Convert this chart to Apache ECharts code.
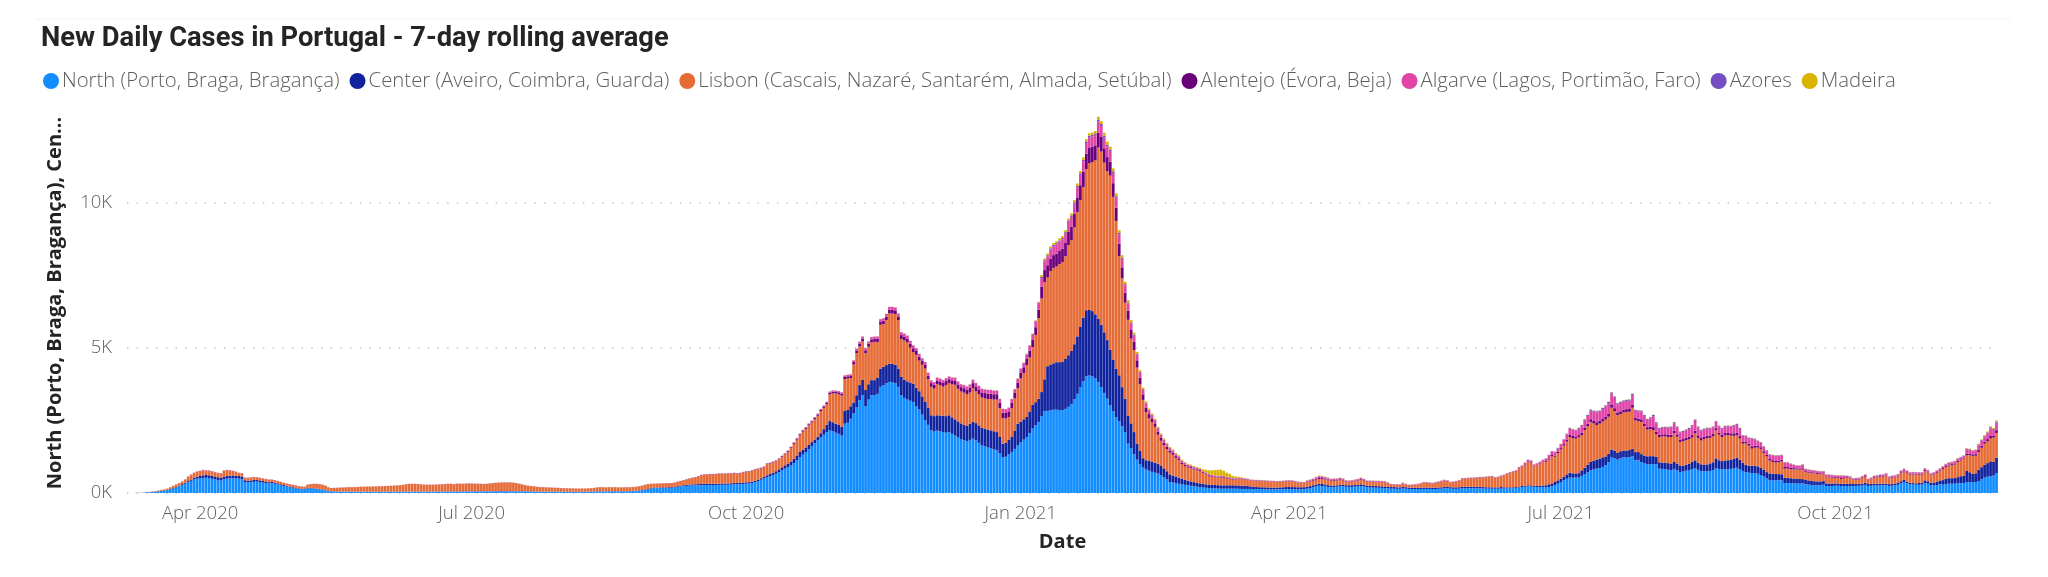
<!DOCTYPE html>
<html>
<head>
<meta charset="utf-8">
<title>New Daily Cases in Portugal</title>
<script src="https://cdn.jsdelivr.net/npm/echarts@6/dist/echarts.min.js"></script>
<style>
  html, body { margin: 0; padding: 0; background: #fff; }
  #chart { width: 2048px; height: 577px; }
</style>
</head>
<body>
<div id="chart"></div>
<script>
// daily bars, first day below, one value per day, 25 values per line
const firstDay = '2020-03-08'
const quarterTicks = ['2020-04-01', '2020-07-01', '2020-10-01', '2021-01-01', '2021-04-01', '2021-07-01', '2021-10-01']
const monthNames = ['Jan', 'Feb', 'Mar', 'Apr', 'May', 'Jun', 'Jul', 'Aug', 'Sep', 'Oct', 'Nov', 'Dec']
const seriesNames = [
  'North (Porto, Braga, Bragança)',
  'Center (Aveiro, Coimbra, Guarda)',
  'Lisbon (Cascais, Nazaré, Santarém, Almada, Setúbal)',
  'Alentejo (Évora, Beja)',
  'Algarve (Lagos, Portimão, Faro)',
  'Azores',
  'Madeira'
]
const seriesColors = ['#118DFF', '#12239E', '#E66C37', '#6B007B', '#E044A7', '#744EC2', '#D9B300']

const north = [
  0,1,2,4,7,12,18,25,35,45,55,68,82,100,125,155,190,230,275,320,370,420,470,495,510,
  520,525,515,490,470,450,430,470,495,505,510,500,495,480,375,365,375,385,390,380,360,345,325,335,320,
  300,270,245,225,200,185,160,140,125,120,165,160,150,140,130,120,90,65,55,50,48,46,45,45,44,
  44,43,43,42,42,42,41,41,40,40,40,40,40,41,41,42,42,42,43,44,44,45,45,44,44,
  44,44,44,45,46,46,46,47,47,48,48,48,49,50,50,50,50,50,50,52,52,52,54,54,55,
  56,56,56,55,55,54,54,53,52,52,50,48,46,45,44,42,42,40,40,40,40,40,40,38,38,
  38,40,40,42,44,46,48,50,52,52,52,54,54,54,52,52,52,54,56,60,66,75,90,105,120,
  160,165,168,170,172,170,175,180,190,205,225,235,245,255,260,262,265,268,272,275,278,275,278,280,280,
  282,285,290,295,300,305,312,320,330,345,375,410,455,500,550,585,625,665,720,780,840,890,950,1030,1130,
  1240,1320,1410,1510,1620,1720,1820,1910,2010,2100,2160,2130,2080,2040,1980,2390,2420,2560,2740,2950,3200,3370,3000,3220,3370,
  3370,3420,3660,3720,3780,3830,3810,3780,3660,3370,3280,3220,3180,3140,3000,2880,2700,2510,2350,2160,2120,2150,2130,2100,2080,
  2100,2040,1980,1920,1860,1820,1780,1830,1875,1820,1730,1640,1610,1570,1540,1500,1470,1370,1240,1250,1330,1415,1520,1640,1740,
  1840,1930,2070,2220,2330,2450,2650,2820,2830,2850,2870,2870,2860,2850,2900,2970,3070,3230,3420,3640,3850,4025,4050,4020,3960,
  3830,3650,3450,3250,3020,2820,2620,2480,2300,2100,1700,1550,1340,1150,1000,880,810,770,730,700,670,610,550,470,380,
  360,340,320,300,280,265,250,235,220,205,190,180,170,165,160,155,150,150,150,150,150,148,145,140,140,
  140,140,138,135,132,130,128,125,125,125,128,130,132,135,135,132,130,128,130,135,150,170,200,225,250,
  240,225,210,200,205,215,240,235,215,205,210,220,225,240,225,200,190,185,185,180,175,170,165,150,150,
  145,145,155,150,140,135,135,135,140,140,140,140,138,138,145,150,160,165,150,145,145,150,160,165,165,
  165,165,165,160,155,150,150,150,148,148,150,155,160,165,165,170,190,205,215,230,230,210,205,205,210,
  205,205,230,270,320,380,440,490,530,530,535,530,590,650,720,780,810,840,860,900,960,1060,1220,1190,1150,
  1200,1230,1220,1240,1265,1130,1140,1060,1020,990,990,1000,990,840,830,820,800,780,830,780,725,740,770,790,820,
  860,800,760,750,750,760,790,860,830,810,820,820,830,850,870,820,760,720,700,690,680,665,620,575,500,
  450,437,435,440,440,345,345,340,335,325,322,340,300,290,275,265,265,270,285,240,240,240,250,250,240,
  240,240,235,240,245,250,255,280,245,250,255,260,260,265,265,245,255,260,285,340,380,340,300,290,285,
  285,290,345,320,270,265,275,300,290,310,320,320,320,330,340,345,380,375,370,380,400,470,530,560,575,600,690
]
const center = [
  0,0,0,0,1,1,2,3,4,5,6,8,10,12,15,18,20,24,30,35,40,45,55,65,75,
  90,95,95,100,100,95,90,95,95,90,95,95,90,90,65,60,60,65,60,55,55,50,45,45,40,
  35,32,30,28,26,24,22,20,20,18,20,18,16,14,12,10,8,8,8,7,7,7,7,6,6,
  6,6,6,6,6,5,5,5,5,5,5,5,6,6,6,6,6,7,7,7,7,7,7,6,6,
  6,6,7,7,7,8,8,8,8,9,9,9,9,10,10,10,10,10,10,10,10,10,10,10,10,
  10,10,10,10,9,9,9,9,8,8,8,8,8,8,8,7,7,7,7,7,7,7,7,7,7,
  7,7,8,8,8,8,9,9,9,9,9,10,10,10,10,10,10,10,11,12,13,14,15,17,18,
  18,20,20,20,22,22,24,24,26,28,30,32,34,36,38,40,42,42,44,44,45,45,45,46,46,
  46,46,48,48,50,50,50,48,45,45,48,50,52,55,60,68,75,85,95,105,115,125,135,150,165,
  175,170,160,150,135,120,115,150,190,250,320,310,310,305,300,440,440,430,380,420,520,530,550,530,520,
  520,560,630,630,630,630,640,640,630,630,630,630,630,630,630,630,630,630,600,520,530,530,540,560,570,
  580,570,560,550,540,530,530,560,575,590,600,600,610,620,620,630,630,560,460,480,500,515,620,750,720,
  700,690,740,820,800,800,830,1100,1540,1580,1600,1640,1650,1670,1720,1780,1840,1900,1980,2100,2200,2275,2260,2250,2200,
  2185,2150,2090,2020,1920,1780,1660,1580,1350,1150,960,850,760,550,450,320,320,350,350,345,340,320,300,280,260,
  245,230,210,195,175,160,150,140,135,130,125,120,120,118,118,116,115,115,115,115,115,115,115,112,110,
  100,85,72,70,68,68,66,65,62,60,60,62,65,70,70,72,72,70,68,66,66,66,68,70,70,
  70,68,62,55,52,50,50,50,55,60,60,60,60,60,58,56,55,55,55,55,55,52,52,55,55,
  52,50,50,50,48,48,46,45,45,45,45,44,44,44,44,45,45,48,50,50,50,50,50,50,52,
  52,52,52,50,48,48,46,45,45,45,55,40,35,30,32,32,35,35,35,35,35,35,40,45,50,
  60,95,100,110,115,115,120,150,170,150,140,155,190,220,250,290,300,310,325,330,300,290,280,275,230,
  240,235,230,240,265,280,270,280,270,275,280,270,260,220,220,225,230,230,240,235,205,205,210,215,260,
  265,240,230,230,235,260,270,335,300,290,300,310,320,330,350,320,280,250,240,250,265,255,240,230,220,
  225,230,220,210,205,175,175,170,165,160,160,140,150,145,140,140,135,130,125,90,85,85,80,75,80,
  80,80,75,70,70,65,65,70,65,70,70,65,60,60,60,60,65,65,65,65,70,50,50,50,50,
  60,65,90,85,85,95,115,130,155,175,190,190,195,215,240,255,380,340,290,300,405,420,440,470,515,470,530
]
const lisbon = [
  0,0,1,2,2,5,8,10,11,15,27,32,36,42,55,72,85,85,90,110,155,165,165,175,170,
  170,150,150,150,142,137,155,200,195,180,150,130,100,105,88,93,98,95,90,85,85,85,90,80,80,
  77,80,77,70,77,74,82,74,79,77,100,127,149,161,163,155,157,122,107,118,125,132,138,144,150,
  149,155,160,166,168,172,176,178,181,185,189,193,196,202,207,214,221,230,254,263,262,262,257,249,239,
  232,232,231,236,239,243,248,257,257,245,260,260,254,257,267,262,257,252,251,244,249,259,272,282,286,
  296,298,298,295,288,274,249,230,207,187,179,171,153,147,145,143,138,135,130,127,120,115,113,112,110,
  109,105,106,104,107,110,117,135,138,138,133,135,135,135,132,132,132,135,132,132,135,140,144,157,166,
  134,132,134,136,137,144,137,136,139,152,155,173,189,207,220,239,269,304,318,318,319,322,322,334,329,
  332,334,332,335,318,323,344,358,359,374,379,362,343,335,388,365,355,345,347,365,380,407,465,515,545,
  570,625,642,670,673,705,727,760,735,710,920,995,1040,1060,1080,1100,1085,970,1310,1450,1330,1325,1270,1295,1300,
  1320,1225,1510,1475,1555,1730,1735,1745,1665,1310,1350,1340,1200,1085,1135,1055,1090,1150,970,980,950,1070,1045,1005,1075,
  1105,1135,1190,1125,1100,1110,1090,1075,1170,1095,1070,1050,1040,1050,1080,1090,1120,995,880,840,790,990,1120,1220,1490,
  1590,1780,1860,1990,2320,2780,3225,3345,3057,3220,3290,3300,3385,3445,3540,3795,3800,4020,4290,4360,4500,4865,5060,5140,5310,
  5895,5970,5850,5820,6000,5610,5100,4100,3750,3310,3310,2920,2830,2625,2300,2010,1650,1450,1360,1235,1000,870,795,765,750,
  715,640,610,505,475,455,455,435,430,425,375,350,300,282,272,269,270,265,235,225,195,197,220,228,215,
  215,203,210,210,212,209,210,204,202,200,192,193,197,199,202,198,178,157,147,139,164,164,152,165,160,
  170,172,168,160,163,165,160,145,110,112,120,128,140,160,142,126,135,140,135,140,142,148,113,85,77,
  80,77,120,92,76,86,98,112,125,165,160,151,145,163,181,203,220,192,160,175,195,218,272,270,278,
  283,288,298,315,322,337,353,359,322,342,370,409,459,492,523,543,625,655,730,805,785,675,710,750,805,
  805,850,935,870,935,1005,1070,1130,1230,1210,1200,1235,1220,1300,1330,1380,1290,1185,1205,1230,1270,1280,1440,1350,1300,
  1280,1310,1345,1320,1410,1090,1060,1110,1020,920,930,900,780,870,900,905,900,920,990,925,830,835,840,845,830,
  925,860,820,880,905,880,900,965,880,830,870,860,830,790,770,740,660,740,690,590,615,645,660,575,540,
  445,403,395,410,445,320,320,310,315,325,323,325,270,265,270,270,255,245,234,209,215,205,190,190,165,
  205,200,195,142,145,155,195,204,125,155,205,220,240,240,280,200,205,215,225,280,290,295,285,300,300,
  290,280,330,305,255,275,300,320,385,415,435,450,465,525,540,585,540,585,620,605,610,670,730,750,785,840,850
]
const alentejo = [
  0,0,0,0,0,0,0,0,0,0,0,1,1,1,1,1,2,2,2,2,2,3,3,3,4,
  5,5,5,5,5,5,4,4,4,4,4,4,4,4,3,3,3,3,3,3,3,3,3,3,3,
  3,3,3,2,2,2,2,2,2,2,2,2,2,2,2,2,2,2,2,2,2,2,2,2,2,
  2,2,2,2,2,2,2,2,2,2,2,2,2,2,2,2,2,2,2,2,2,2,2,2,2,
  3,3,3,3,3,3,3,3,3,3,3,3,3,3,3,3,3,3,3,3,3,3,3,3,3,
  3,3,3,3,3,3,3,3,3,3,3,3,3,3,3,3,3,3,3,3,3,3,3,3,3,
  2,2,2,2,2,2,2,2,2,2,2,2,2,2,2,2,2,2,2,2,2,2,2,2,3,
  3,3,3,4,4,4,4,5,5,5,5,5,6,6,6,7,7,8,8,9,9,9,10,10,10,
  10,10,10,12,12,12,13,13,14,14,15,15,16,16,17,17,19,19,21,22,25,27,28,31,34,
  38,38,40,41,42,44,46,47,50,52,58,60,63,66,68,74,76,79,84,90,95,98,100,103,105,
  105,108,110,113,118,126,130,130,130,133,133,133,133,133,130,130,128,128,128,128,128,130,130,130,133,
  138,141,144,147,150,155,160,165,168,170,173,180,185,185,185,185,185,188,190,190,190,190,190,195,200,
  205,220,235,250,265,290,410,420,425,435,440,445,450,455,460,470,475,485,500,510,520,530,525,520,515,
  510,505,495,490,480,470,455,430,380,340,320,300,280,250,220,190,170,150,130,120,110,100,90,80,75,
  65,60,55,50,45,40,38,35,33,30,28,26,25,25,24,24,24,22,22,20,20,18,18,16,15,
  14,13,12,12,12,12,11,11,11,11,11,11,11,11,12,12,12,12,12,12,18,22,25,32,38,
  34,30,28,25,25,25,25,25,20,18,18,19,20,22,20,17,15,15,15,15,15,14,12,9,9,
  9,9,9,9,8,8,8,9,9,9,9,9,9,9,9,10,11,11,9,9,9,10,11,11,11,
  11,11,11,11,11,11,11,11,11,11,10,10,10,10,11,12,13,15,17,20,20,17,18,20,20,
  30,40,45,42,45,48,55,65,75,75,72,75,80,85,90,95,100,105,100,105,110,112,115,110,95,
  95,95,95,95,105,85,90,90,88,85,90,100,85,70,72,75,78,80,85,80,80,80,85,88,95,
  100,88,85,82,82,80,78,75,72,72,75,78,78,85,88,82,70,65,68,80,72,60,58,58,55,
  55,60,60,60,56,56,54,50,44,40,40,47,33,33,32,32,32,32,32,30,28,28,28,28,33,
  25,24,22,20,20,20,22,26,18,20,21,22,24,25,25,21,22,24,25,28,30,28,27,27,27,
  27,27,28,27,24,25,27,30,30,32,34,36,38,38,38,34,60,55,50,54,65,68,70,78,90,75,95
]
const algarve = [
  0,0,0,0,0,0,0,0,0,1,1,1,1,1,2,2,2,3,3,3,5,5,6,7,8,
  9,9,9,9,8,8,7,7,7,7,7,7,7,7,6,6,6,5,5,5,5,5,5,5,5,
  4,4,4,4,4,4,3,3,3,2,2,2,2,2,2,2,2,2,2,2,2,2,2,2,2,
  2,2,2,2,2,2,2,2,2,2,2,2,2,2,2,2,2,2,2,2,2,2,2,2,2,
  3,3,3,3,3,3,3,3,3,3,3,3,3,3,3,3,3,3,3,3,3,3,3,3,3,
  3,3,3,3,3,3,3,3,3,3,3,3,3,3,3,3,3,3,3,3,3,3,3,3,3,
  2,2,2,2,2,2,2,2,2,2,2,2,2,2,2,2,2,2,2,2,2,2,2,2,3,
  3,3,3,3,3,3,3,3,3,3,3,3,4,4,4,5,5,5,5,6,6,6,6,6,6,
  6,6,6,6,6,6,7,7,8,8,9,9,10,10,11,11,12,12,13,14,15,16,17,18,20,
  22,22,23,24,25,26,27,28,30,33,36,38,40,42,45,48,51,53,58,62,67,69,72,74,77,
  77,79,81,83,88,95,96,96,96,98,98,98,98,98,96,96,93,93,93,93,93,96,96,96,98,
  90,92,94,96,98,103,108,108,110,113,115,118,123,123,123,123,123,125,127,127,127,127,127,132,137,
  140,152,165,185,195,225,290,295,300,305,310,315,318,320,325,330,335,340,350,360,365,370,370,365,362,
  385,380,375,370,365,355,345,325,290,260,245,230,215,195,175,155,140,125,115,105,105,100,90,85,80,
  70,65,60,58,55,50,48,45,42,40,32,30,30,30,28,28,28,26,26,25,25,24,22,20,18,
  17,16,15,15,14,14,14,14,14,14,14,14,14,14,15,15,16,16,16,16,26,30,36,44,54,
  50,46,42,36,36,36,36,36,30,28,28,29,30,32,30,25,23,23,23,23,22,20,18,14,13,
  13,13,14,13,12,12,12,13,14,14,14,14,13,14,14,15,16,16,14,14,14,15,16,16,16,
  16,16,16,16,16,16,17,17,16,16,17,18,18,20,21,25,28,35,42,48,48,42,46,48,53,
  85,112,120,118,124,130,150,185,210,210,205,218,232,255,268,295,303,340,312,325,340,355,370,355,285,
  290,285,285,290,335,250,260,270,262,250,285,375,290,210,218,225,230,245,260,238,243,248,252,268,295,
  337,270,250,248,248,232,225,215,212,212,220,226,226,257,272,250,195,182,189,250,213,158,152,152,138,
  138,162,162,162,148,148,140,126,104,90,90,115,68,68,64,64,64,64,65,58,55,55,55,55,72,
  44,41,39,32,32,32,39,48,29,32,35,39,42,45,45,35,39,42,45,51,54,51,47,47,47,
  47,47,50,47,41,45,47,52,52,58,60,63,70,70,70,60,150,136,115,130,170,172,180,205,265,195,265
]
const azores = [
  0,0,0,0,0,0,0,0,0,0,0,0,0,0,0,1,1,1,1,1,2,2,2,2,2,
  4,4,4,4,3,3,3,3,3,3,3,3,3,3,2,2,2,1,1,1,1,1,1,1,1,
  1,1,1,1,1,1,1,1,1,1,1,1,1,1,1,1,1,1,1,1,1,1,1,1,1,
  1,1,1,1,1,1,1,1,1,1,1,1,1,1,1,1,1,1,1,1,1,1,1,1,1,
  2,2,2,2,2,2,2,2,2,2,2,2,2,2,2,2,2,2,2,2,2,2,2,2,2,
  1,1,1,1,1,1,1,1,1,1,1,1,1,1,1,1,1,1,1,1,1,1,1,1,1,
  1,1,1,1,1,1,1,1,1,1,1,1,1,1,1,1,1,1,1,1,1,1,1,1,1,
  1,1,1,1,1,1,1,1,1,1,1,1,1,1,1,1,1,2,2,2,2,2,2,2,2,
  2,2,2,2,2,2,2,2,2,2,2,2,2,2,2,2,2,2,2,2,3,3,3,3,3,
  3,3,3,3,3,3,3,3,3,3,3,4,4,4,4,4,4,4,4,4,4,4,4,4,4,
  4,4,5,5,5,5,5,5,5,5,5,5,5,5,5,5,5,5,5,5,5,5,5,5,5,
  6,6,6,6,6,6,6,6,6,6,6,6,6,6,6,6,6,6,6,6,6,6,6,6,6,
  12,14,15,18,20,25,45,45,45,45,45,45,45,48,48,50,50,50,52,52,55,55,55,55,53,
  65,65,60,60,55,55,50,50,45,40,35,35,30,30,25,25,20,20,15,15,15,15,15,15,15,
  15,15,15,12,12,10,10,10,10,10,10,10,10,10,8,8,8,8,8,8,8,8,6,6,6,
  6,6,6,6,6,6,6,6,6,5,5,5,6,6,6,6,6,6,6,6,8,9,10,12,14,
  13,12,10,9,9,9,9,9,7,6,6,6,7,8,7,6,6,6,6,6,5,5,5,3,3,
  3,3,4,3,3,3,3,3,4,4,4,4,3,4,4,4,4,4,4,4,4,4,4,4,4,
  4,4,4,4,4,4,4,4,4,4,4,4,4,4,4,4,5,6,7,8,8,7,7,8,8,
  10,13,14,14,15,16,18,22,25,25,23,27,28,30,32,35,37,40,38,40,40,42,43,43,35,
  35,35,35,35,40,30,30,30,30,30,35,45,35,30,30,30,32,35,35,32,32,32,33,34,40,
  43,32,30,30,30,28,27,25,26,26,25,26,26,28,30,28,25,23,23,30,25,22,20,20,18,
  18,19,19,19,18,18,18,16,15,13,13,16,12,12,12,12,12,12,12,10,10,10,10,10,12,
  9,9,8,7,7,7,8,10,7,7,8,8,8,9,9,8,8,8,9,10,10,10,10,10,10,
  10,10,11,10,9,9,10,11,11,12,13,13,14,14,14,12,20,19,17,18,24,24,24,27,35,27,35
]
const madeira = [
  0,0,0,0,0,0,0,0,0,0,0,0,0,0,0,0,0,0,0,0,0,0,1,1,1,
  2,2,2,2,2,2,1,1,1,1,1,1,1,1,1,1,1,1,1,1,1,1,1,1,1,
  0,0,0,0,0,0,0,0,0,0,0,0,0,0,0,0,0,0,0,0,0,0,0,0,0,
  1,1,1,1,1,1,1,1,1,1,1,1,1,1,1,1,1,1,1,1,1,1,1,1,1,
  1,1,1,1,1,1,1,1,1,1,1,1,1,1,1,1,1,1,1,1,1,1,1,1,1,
  1,1,1,1,1,1,1,1,1,1,1,1,1,1,1,1,1,1,1,1,1,1,1,1,1,
  1,1,1,1,1,1,1,1,1,1,1,1,1,1,1,1,1,1,1,1,1,1,1,1,1,
  1,1,1,1,1,1,1,1,1,1,1,1,1,1,1,1,1,1,1,1,1,1,2,2,2,
  2,2,2,2,2,2,2,2,2,2,2,2,2,2,2,2,2,2,2,2,2,2,2,3,3,
  2,2,2,2,2,2,2,2,2,2,3,3,3,3,3,4,4,4,4,4,4,4,4,4,4,
  4,4,4,4,4,4,4,4,4,4,4,4,4,4,4,4,4,4,4,4,4,4,4,4,4,
  6,6,6,6,6,6,6,6,6,6,6,6,6,6,6,6,6,6,6,6,6,6,6,6,6,
  13,14,15,17,20,20,60,60,60,65,65,65,67,67,67,70,70,75,78,78,80,80,80,80,80,
  100,100,100,100,100,100,100,95,85,80,80,75,75,65,60,50,50,45,40,40,40,35,35,30,30,
  30,30,30,30,28,30,29,30,30,30,60,84,125,155,180,200,210,184,144,117,77,60,34,18,16,
  8,7,7,7,6,6,5,5,5,5,5,5,5,5,5,5,6,6,6,6,8,9,9,12,14,
  13,12,10,10,10,10,10,10,8,8,8,8,8,8,8,7,6,6,6,6,6,6,5,4,3,
  3,3,3,3,3,3,3,3,3,3,3,3,3,3,3,3,4,4,3,3,3,3,4,4,4,
  4,4,4,4,4,4,4,4,4,4,4,4,4,4,4,4,4,4,4,4,4,4,4,4,4,
  5,5,6,6,6,6,7,8,10,10,10,10,10,10,10,10,10,10,10,10,10,11,12,12,10,
  10,10,10,10,10,10,10,10,10,10,10,10,10,10,10,10,10,10,10,10,10,10,10,10,10,
  10,10,10,10,10,10,10,10,10,10,10,10,10,10,10,10,10,10,10,10,10,10,10,10,9,
  9,9,9,9,8,8,8,8,7,7,7,7,7,7,7,7,7,7,7,7,7,7,7,7,8,
  7,6,6,6,6,6,6,6,6,6,6,6,6,6,6,6,6,6,6,6,6,6,6,6,6,
  6,6,6,6,6,6,6,7,7,8,8,8,8,8,8,9,20,20,18,18,26,26,26,30,35,33,35
]
const seriesValues = [north, center, lisbon, alentejo, algarve, azores, madeira]

// 一天一个类目
const dates = north.map((_, i) => {
  const d = new Date(firstDay + 'T00:00:00Z')
  d.setUTCDate(d.getUTCDate() + i)
  return d.toISOString().slice(0, 10)
})

const chart = echarts.init(document.getElementById('chart'))

chart.setOption({
  animation: false,
  backgroundColor: '#fff',
  textStyle: { fontFamily: 'Open Sans' },
  title: {
    text: 'New Daily Cases in Portugal - 7-day rolling average',
    left: 36,
    top: 21,
    textStyle: { fontFamily: 'Roboto', fontSize: 27.3, fontWeight: 700, color: '#252423' }
  },
  legend: {
    left: 38,
    top: 66,
    icon: 'circle',
    itemWidth: 16,
    itemHeight: 16,
    itemGap: 10,
    textStyle: { fontFamily: 'Open Sans', fontWeight: 300, fontSize: 20.35, color: '#605E5C', padding: [0, 0, 0, -2] },
    data: seriesNames
  },
  grid: { left: 127, right: 50, top: 113, bottom: 84 },
  graphic: [
    { type: 'rect', shape: { x: 36, y: 18, width: 1975, height: 2 }, style: { fill: '#f8f8f8' }, silent: true }
  ],
  xAxis: {
    type: 'category',
    data: dates,
    name: 'Date',
    nameLocation: 'middle',
    nameGap: 39,
    nameTextStyle: { fontFamily: 'Open Sans', fontWeight: 700, fontSize: 20, color: '#252423' },
    axisLine: { show: false },
    axisTick: { show: false },
    axisLabel: {
      interval: (idx, value) => quarterTicks.includes(value),
      formatter: (value) => monthNames[+value.slice(5, 7) - 1] + ' ' + value.slice(0, 4),
      margin: 11,
      fontFamily: 'Open Sans',
      fontWeight: 300,
      fontSize: 18.5,
      color: '#605E5C',
      hideOverlap: false
    }
  },
  yAxis: {
    type: 'value',
    min: 0,
    max: 13100,
    interval: 5000,
    name: 'North (Porto, Braga, Bragança), Cen...',
    nameLocation: 'middle',
    nameGap: 62,
    nameTextStyle: { fontFamily: 'Open Sans', fontWeight: 700, fontSize: 20, color: '#252423' },
    axisLine: { show: false },
    axisTick: { show: false },
    axisLabel: {
      showMaxLabel: false,
      formatter: (v) => v / 1000 + 'K',
      margin: 15,
      fontFamily: 'Open Sans',
      fontWeight: 300,
      fontSize: 18.5,
      color: '#605E5C'
    },
    splitLine: {
      showMaxLine: false,
      lineStyle: { type: [1.5, 8.2], width: 1.5, color: '#C8C6C4' }
    }
  },
  series: seriesNames.map((name, i) => ({
    name,
    type: 'bar',
    stack: 'cases',
    barWidth: '92%',
    itemStyle: { color: seriesColors[i] },
    data: seriesValues[i]
  }))
})

window.addEventListener('resize', () => chart.resize())
</script>
</body>
</html>
